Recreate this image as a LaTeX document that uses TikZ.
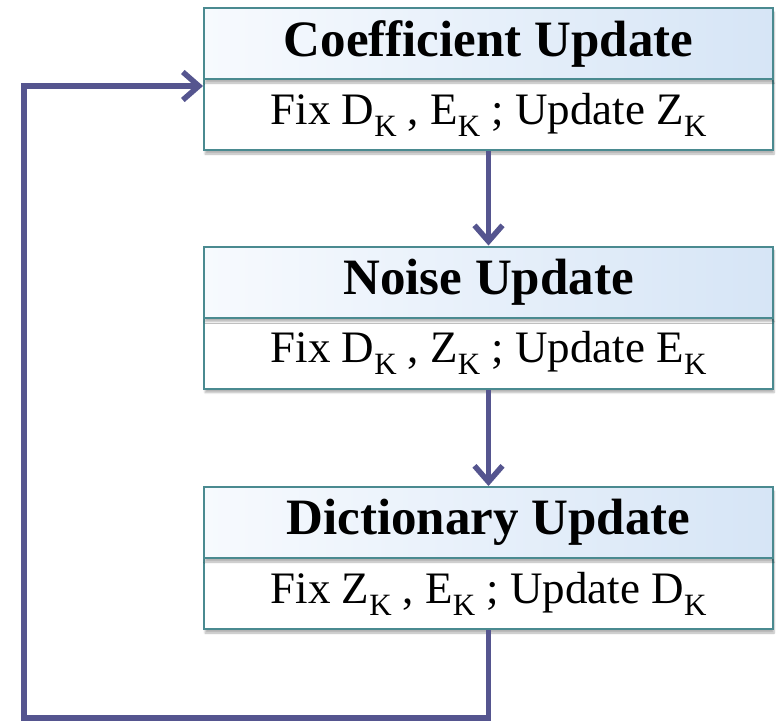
\documentclass[tikz,border=0pt]{standalone}
\usepackage{fontspec}
\setmainfont{Liberation Serif}
\usetikzlibrary{arrows.meta,shadows.blur}
\definecolor{bord}{HTML}{4A8A90}
\definecolor{arr}{HTML}{55558F}
\definecolor{hl}{HTML}{F7FAFE}
\definecolor{hr}{HTML}{D6E5F6}
\newcommand{\kk}{\raisebox{-0.27em}{\fontsize{31}{32}\selectfont K}}
\begin{document}
\begin{tikzpicture}[x=1pt,y=-1pt,
 head/.style={draw=bord, line width=2pt, left color=hl, right color=hr,
   minimum width=569pt, minimum height=71pt, inner sep=0pt,
   font=\fontsize{51}{53}\selectfont\bfseries,
   blur shadow={shadow xshift=1pt, shadow yshift=-4pt, shadow blur steps=6, shadow opacity=30}},
 body/.style={draw=bord, line width=2pt, fill=white,
   minimum width=569pt, minimum height=71pt, inner sep=0pt,
   font=\fontsize{45}{47}\selectfont,
   blur shadow={shadow xshift=1pt, shadow yshift=-4pt, shadow blur steps=6, shadow opacity=30}},
 flow/.style={draw=arr, line width=5.5pt,
   -{Straight Barb[length=16pt,width=28pt,line width=5.5pt]}}]
\useasboundingbox (0,0) rectangle (777,721);

\node[body] (b1) at (488.5,114.5) {Fix D\kk{} , E\kk{} ; Update Z\kk};
\node[head] (h1) at (488.5,43.5) {Coefficient Update};

\node[body] (b2) at (488.5,353) {Fix D\kk{} , Z\kk{} ; Update E\kk};
\node[head] (h2) at (488.5,282) {Noise Update};

\node[body] (b3) at (488.5,593.5) {Fix Z\kk{} , E\kk{} ; Update D\kk};
\node[head] (h3) at (488.5,522.5) {Dictionary Update};

\draw[flow] (b1.south) -- (h2.north);
\draw[flow] (b2.south) -- (h3.north);

\coordinate (lb) at (24,718);
\coordinate (lt) at (24,86);
\draw[flow] (b3.south) |- (lb) -- (lt) -- (h1.west |- lt);
\end{tikzpicture}
\end{document}
